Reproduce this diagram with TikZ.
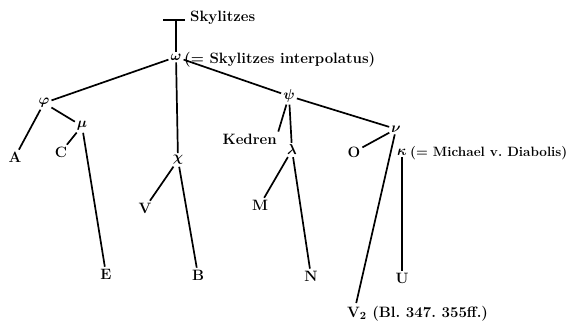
\documentclass[tikz,border=0pt]{standalone}
\usepackage{bm}
\begin{document}
\begin{tikzpicture}[x=1pt,y=-1pt,
  lbl/.style={inner sep=1pt,font=\fontsize{15}{18}\selectfont\bfseries},
  gk/.style={inner sep=1pt,font=\fontsize{15}{18}\selectfont},
  ed/.style={line width=1.7pt,shorten <=1pt,shorten >=1pt}]
\useasboundingbox (0,0) rectangle (570,328);
% nodes
\coordinate (skl) at (163,20);
\coordinate (skr) at (185,20);
\coordinate (top) at (176,20);
\node[lbl,anchor=west] (sky) at (189,18) {Skylitzes};
\node[gk] (omega) at (176,57) {$\bm{\omega}$};
\node[lbl,anchor=west,inner sep=0pt] (omegat) at (184,60) {(= Skylitzes interpolatus)};
\node[gk] (phi) at (44,103) {$\bm{\varphi}$};
\node[lbl] (A) at (15,157) {A};
\node[gk] (mu) at (82,126) {$\bm{\mu}$};
\node[lbl] (C) at (61,152) {C};
\node[lbl] (E) at (106,274) {E};
\node[gk] (chi) at (178,160) {$\bm{\chi}$};
\node[lbl] (V) at (145,208) {V};
\node[lbl] (B) at (198,275) {B};
\node[gk] (psi) at (289,96) {$\bm{\psi}$};
\node[lbl,anchor=east] (ked) at (278,139) {Kedren};
\node[gk] (lam) at (292,150) {$\bm{\lambda}$};
\node[lbl] (M) at (260,205) {M};
\node[lbl] (N) at (311,276) {N};
\node[gk] (nu) at (396,129) {$\bm{\nu}$};
\node[lbl] (O) at (354,152) {O};
\node[gk] (kap) at (402,152) {$\bm{\kappa}$};
\node[anchor=west,inner sep=0pt,font=\fontsize{13.5}{16}\selectfont\bfseries] (kapt) at (410,153) {(= Michael v.\ Diabolis)};
\node[lbl] (U) at (402,278) {U};
\node[lbl,anchor=west,inner sep=0pt] (V2) at (347,314) {V$_{\mathbf 2}$ (Bl.\ 347.\ 355ff.)};
\coordinate (V2top) at (356,304);
% edges
\draw[line width=1.7pt] (skl) -- (skr);
\draw[ed,shorten <=0pt] (top) -- (omega);
\draw[ed] (omega) -- (phi);
\draw[ed] (omega) -- (chi);
\draw[ed] (omega) -- (psi);
\draw[ed] (phi) -- (A);
\draw[ed] (phi) -- (mu);
\draw[ed] (mu) -- (C);
\draw[ed] (mu) -- (E);
\draw[ed] (chi) -- (V);
\draw[ed] (chi) -- (B);
\draw[ed] (psi) -- (ked.north east);
\draw[ed] (psi) -- (lam);
\draw[ed] (psi) -- (nu);
\draw[ed] (lam) -- (M);
\draw[ed] (lam) -- (N);
\draw[ed] (nu) -- (O);
\draw[ed] (nu) -- (V2top);
\draw[ed] (kap) -- (U);
\end{tikzpicture}
\end{document}
